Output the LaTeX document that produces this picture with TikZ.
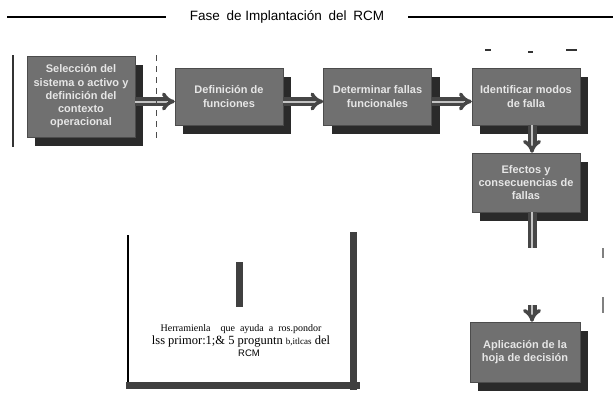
\documentclass[tikz,border=0pt]{standalone}
\usepackage{fontspec}
\setmainfont{Liberation Serif}
\setsansfont{Liberation Sans}
\usetikzlibrary{calc,shadows,arrows.meta}
\definecolor{cajagris}{RGB}{112,112,112}
\definecolor{sombragris}{RGB}{42,42,42}
\definecolor{textogris}{RGB}{230,230,230}
\definecolor{flechagris}{RGB}{70,70,70}
\definecolor{flechaclara}{RGB}{195,195,195}
\tikzset{
  paso/.style={draw=gray!60!black, fill=cajagris, text=textogris,
    font=\sffamily\bfseries\fontsize{11}{13.3}\selectfont, align=center,
    minimum width=108pt, minimum height=57pt, inner sep=2pt,
    drop shadow={shadow xshift=8pt, shadow yshift=-9pt, fill=sombragris, opacity=1}},
  flecha/.style={draw=flechagris, line width=3.5pt, double=flechaclara,
    double distance=2pt, -{Implies[scale=0.55]}},
  marca/.style={line width=1.5pt, black!80}
}

\begin{document}
\begin{tikzpicture}[x=1pt, y=-1pt]
\useasboundingbox (0,0) rectangle (613,400);

% titulo
\node[font=\sffamily\fontsize{13.5}{16}\selectfont, inner xsep=24pt] (titulo) at (287,17)
  {Fase\hspace{3pt} de Implantación\hspace{3pt} del\hspace{3pt} RCM};
\coordinate (tizq) at (7,17);
\coordinate (tder) at (613,17);
\draw[line width=1.3pt] (tizq) -- (titulo.west);
\draw[line width=1.3pt] (titulo.east) -- (tder);

% pasos
\node[paso, minimum height=81pt] (seleccion) at (81,96.5)
  {Selección del\\ sistema o activo y\\ definición del\\ contexto\\ operacional};
\node[paso] (funciones) at (229,96.5) {Definición de\\ funciones};
\node[paso] (fallas) at (377.5,96.5) {Determinar fallas\\ funcionales};
\node[paso] (modos) at (526,96.5) {Identificar modos\\ de falla};
\node[paso, minimum height=59pt] (efectos) at (526,182.5)
  {Efectos y\\ consecuencias de\\ fallas};
\node[paso, minimum width=110pt, minimum height=60pt] (decision) at (525,352)
  {Aplicación de la\\ hoja de decisión};

% flechas
\draw[flecha] ($(seleccion.east)+(0,5)$) -- ($(funciones.west)+(0,5)$);
\draw[flecha] ($(funciones.east)+(0,5)$) -- ($(fallas.west)+(0,5)$);
\draw[flecha] ($(fallas.east)+(0,5)$) -- ($(modos.west)+(0,5)$);
\draw[flecha] ($(modos.south)+(6,0)$) -- ($(efectos.north)+(6,0)$);
\coordinate (corte) at (532,248);
\coordinate (reanuda) at (532,305);
\draw[flecha, -] ($(efectos.south)+(6,0)$) -- (corte);
\draw[flecha] (reanuda) -- ($(decision.north)+(7,0)$);

% recuadro de la herramienta
\fill[black!75] (126,382) rectangle (360,389);
\fill[black!75] (350,232) rectangle (357,390);
\draw[line width=1.2pt] (128,235) -- (128,382);
\fill[black!75] (236,262) rectangle (243,307);
\node[align=center, inner sep=0pt] (herramienta) at (241,341)
  {{\fontsize{10}{12}\selectfont Herramienla\quad que\ \ ayuda\ \ a\ \ ros.pondor}\\[1pt]
   {\fontsize{12.5}{13}\selectfont lss primor:1;\& 5 proguntn {\fontsize{9}{10}\selectfont b,itlcas} del}\\[0pt]
   {\sffamily\fontsize{9.5}{11}\selectfont\hspace{16pt}RCM}};

% marcas sueltas
\draw[marca] (13,55) -- (13,147);
\draw[black!70, line width=1pt, dash pattern=on 6pt off 5pt] (156,55) -- (156,140);
\draw[marca] (485,50) -- (491,50);
\draw[marca] (528,52) -- (533,52);
\draw[marca] (566,50) -- (577,50);
\draw[gray, line width=1.2pt] (603,248) -- (603,258);
\draw[gray, line width=1.2pt] (603,297) -- (603,313);
\end{tikzpicture}
\end{document}
